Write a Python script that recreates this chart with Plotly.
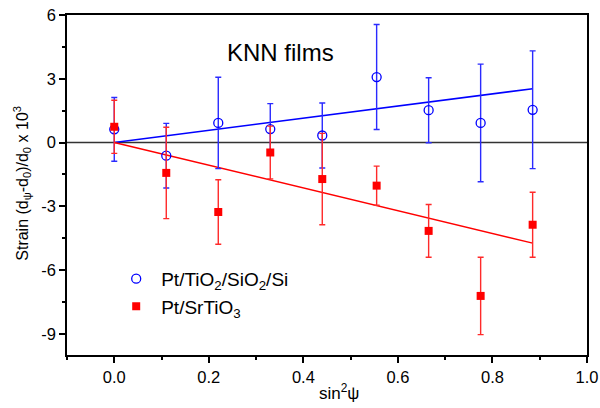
import plotly.graph_objects as go

# sin^2(psi) positions
x_vals = [0.0, 0.11, 0.22, 0.33, 0.44, 0.555, 0.665, 0.775, 0.885]

# Pt/TiO2/SiO2/Si (open blue circles)
blue_y = [0.62, -0.62, 0.92, 0.63, 0.33, 3.08, 1.52, 0.92, 1.54]
blue_err = [1.5, 1.52, 2.15, 1.2, 1.53, 2.47, 1.53, 2.77, 2.77]

# Pt/SrTiO3 (filled red squares)
red_y = [0.74, -1.43, -3.27, -0.47, -1.72, -2.03, -4.16, -7.22, -3.87]
red_err = [1.25, 2.15, 1.52, 1.24, 2.15, 0.92, 1.24, 1.82, 1.53]

# fitted slopes (lines through origin)
blue_slope = 2.86
red_slope = -5.35

fit_x = [x_vals[0], x_vals[-1]]

blue_name = "Pt/TiO<sub>2</sub>/SiO<sub>2</sub>/Si"
red_name = "Pt/SrTiO<sub>3</sub>"

y_ticks = [-9, -6, -3, 0, 3, 6]
y_ticktext = ["-9", "-6", "-3", "0", "3", "6"]
x_ticks = [0.0, 0.2, 0.4, 0.6, 0.8, 1.0]
x_ticktext = ["0.0", "0.2", "0.4", "0.6", "0.8", "1.0"]

x_title = "sin<sup>2</sup>ψ"
y_title = "Strain (d<sub>ψ</sub>-d<sub>0</sub>)/d<sub>0</sub> x 10<sup>3</sup>"

fig = go.Figure()

# zero line
fig.add_trace(go.Scatter(x=[-0.1, 1.0], y=[0, 0], mode="lines",
                         line=dict(color="#333333", width=1.5),
                         showlegend=False, hoverinfo="skip"))

# fit lines
fig.add_trace(go.Scatter(x=fit_x, y=[blue_slope * v for v in fit_x], mode="lines",
                         line=dict(color="#0000ff", width=1.5), showlegend=False))
fig.add_trace(go.Scatter(x=fit_x, y=[red_slope * v for v in fit_x], mode="lines",
                         line=dict(color="#ff0000", width=1.5), showlegend=False))

fig.add_trace(go.Scatter(
    x=x_vals, y=blue_y, mode="markers", name=blue_name,
    marker=dict(symbol="circle-open", size=9, color="#0000ff", line=dict(width=1.3)),
    error_y=dict(type="data", array=blue_err, visible=True, color="#2a2aff",
                 thickness=1.4, width=3),
))
fig.add_trace(go.Scatter(
    x=x_vals, y=red_y, mode="markers", name=red_name,
    marker=dict(symbol="square", size=8, color="#ff0000"),
    error_y=dict(type="data", array=red_err, visible=True, color="#ff2a2a",
                 thickness=1.4, width=3),
))

fig.add_annotation(text="KNN films", xref="paper", yref="paper",
                   x=0.41, y=0.935, showarrow=False,
                   font=dict(size=24, color="black"))

# axis titles as annotations for exact placement
fig.add_annotation(text=x_title, xref="paper", yref="paper",
                   x=0.523, y=-0.109, xanchor="center", yanchor="middle",
                   showarrow=False, font=dict(size=17, color="black"))
fig.add_annotation(text=y_title, xref="paper", yref="paper",
                   x=-0.087, y=0.506, xanchor="center", yanchor="middle",
                   textangle=-90, showarrow=False, font=dict(size=16, color="black"))

axis_common = dict(
    showline=True, linecolor="black", linewidth=1.5, mirror=True,
    ticks="outside", ticklen=6, tickwidth=1.5, tickcolor="black",
    showgrid=False, zeroline=False, automargin=False,
    tickfont=dict(size=16.5, color="black"),
)

fig.update_xaxes(
    range=[-0.1, 1.0], tickvals=x_ticks, ticktext=x_ticktext,
    minor=dict(dtick=0.1, tick0=0, ticks="outside", ticklen=3, tickwidth=1.5, tickcolor="black"),
    **axis_common,
)
fig.update_yaxes(
    range=[-10, 6], tickvals=y_ticks, ticktext=y_ticktext,
    minor=dict(dtick=1.5, tick0=0, ticks="outside", ticklen=3, tickwidth=1.5, tickcolor="black"),
    **axis_common,
)

fig.update_layout(
    width=600, height=408,
    margin=dict(l=67, r=13, t=15, b=53),
    plot_bgcolor="white", paper_bgcolor="white",
    font=dict(family="Liberation Sans, Arial, sans-serif", color="black"),
    legend=dict(x=0.085, y=0.28, xanchor="left", yanchor="top",
                bgcolor="rgba(0,0,0,0)", font=dict(size=19, color="black"),
                itemwidth=40, tracegroupgap=2),
)

fig.write_html("out.html", config={"displayModeBar": False},
               post_script="document.body.style.margin='0';")
